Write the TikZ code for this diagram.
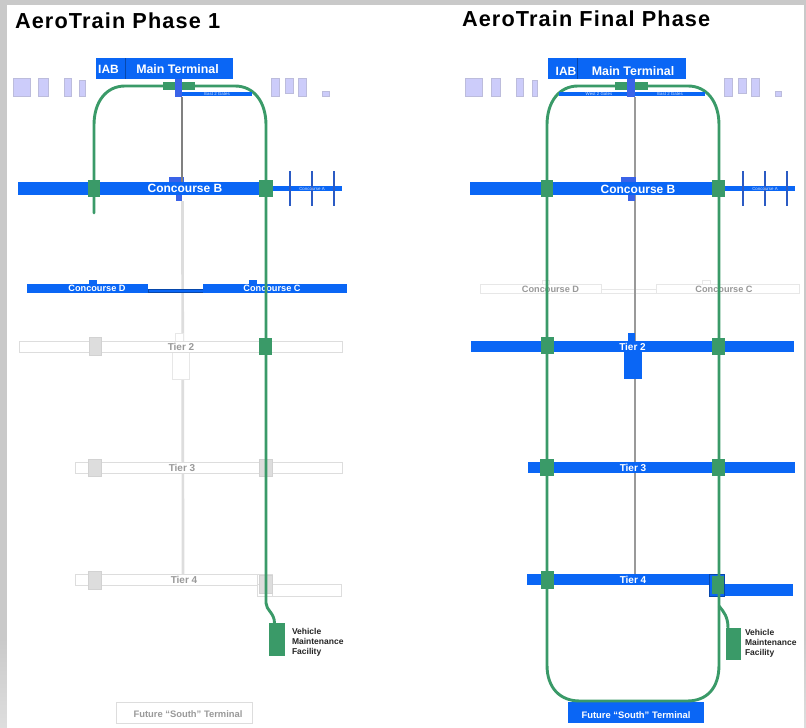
\documentclass[tikz,border=0pt]{standalone}
\usepackage{fontspec}
\setmainfont{Liberation Sans}
\newfontfamily\spaced[LetterSpace=5.2]{Liberation Sans}
\definecolor{tblue}{HTML}{0A66F5}
\definecolor{tgreen}{HTML}{3A9A68}
\definecolor{tpurple}{HTML}{CCCCFA}
\definecolor{tedge}{HTML}{BCBCDC}
\definecolor{tpale}{HTML}{DDDDDD}
\definecolor{tdeep}{HTML}{2B5BC4}
\definecolor{tcore}{HTML}{3A63E8}
\definecolor{ttext}{HTML}{999999}
\tikzset{
  x=1pt,y=-1pt,
  bx/.style={rectangle,inner sep=0pt,outer sep=0pt,align=center},
  bluebox/.style={bx,fill=tblue,text=white,font=\bfseries},
  ghost/.style={bx,fill=white,draw=tpale,line width=0.9pt,text=ttext,font=\bfseries},
  faint/.style={bx,fill=white,draw=tpale!70,line width=0.7pt,text=ttext,font=\bfseries},
  greenst/.style={bx,fill=tgreen},
  greyst/.style={bx,fill=tpale,draw=tpale!95!black,line width=0.4pt},
  corebox/.style={bx,fill=tcore},
  pier/.style={bx,fill=tpurple,draw=tedge,line width=0.6pt},
  track/.style={draw=tgreen,line width=2.9pt,line cap=round},
  spine/.style={draw=gray,line width=2.7pt},
  pale/.style={draw=tpale,line width=2.7pt},
  rib/.style={draw=tdeep,line width=1.7pt},
  heading/.style={inner sep=0pt,outer sep=0pt,anchor=base west,font=\spaced\bfseries\fontsize{21.7}{24}\selectfont},
  lbl/.style={inner sep=0pt,outer sep=0pt,anchor=center},
  vmf/.style={inner sep=0pt,outer sep=0pt,anchor=north west,align=left,font=\bfseries\fontsize{8.5}{10}\selectfont,text=black!85},
}
% name, style, x1,y1,x2,y2, text
\newcommand{\bx}[7]{%
  \pgfmathsetmacro{\bw}{#5-#3}\pgfmathsetmacro{\bh}{#6-#4}%
  \pgfmathsetmacro{\bcx}{(#3+#5)/2}\pgfmathsetmacro{\bcy}{(#4+#6)/2}%
  \node[#2,minimum width=\bw pt,minimum height=\bh pt] (#1) at (\bcx,\bcy) {#7};}
\newcommand{\fs}[1]{\fontsize{#1}{#1}\selectfont}
\begin{document}
\begin{tikzpicture}
\useasboundingbox (0,0) rectangle (806,728);
% page frame
\fill[gray!42] (0,0) rectangle (806,728);
\shade[top color=gray!42,bottom color=gray!26] (0,640) rectangle (7,728);
\shade[top color=gray!42,bottom color=gray!26] (804,640) rectangle (806,728);
\fill[white] (7,5) rectangle (804,728);

% ===== Phase 1 =====
\node[heading] (t1) at (15,28) {AeroTrain Phase 1};
\bx{a1}{pier}{13}{78}{30}{96}{}
\bx{a2}{pier}{38}{78}{48}{96}{}
\bx{a3}{pier}{64}{78}{71}{96}{}
\bx{a4}{pier}{79}{80}{85}{96}{}
\bx{a5}{pier}{271}{78}{279}{96}{}
\bx{a6}{pier}{285}{78}{293}{93}{}
\bx{a7}{pier}{298}{78}{306}{96}{}
\bx{a8}{pier}{322}{91}{329}{96}{}
% concourse A
\bx{aCA}{bluebox}{272}{186}{342}{191}{}
\bx{aR1}{bx}{289.5}{171}{290.5}{206}{}
\bx{aR2}{bx}{311.5}{171}{312.5}{206}{}
\bx{aR3}{bx}{333.5}{171}{334.5}{206}{}
\draw[rib] (aR1.north) -- (aR1.south);
\draw[rib] (aR2.north) -- (aR2.south);
\draw[rib] (aR3.north) -- (aR3.south);
\node[lbl,text=white!80!tblue,font=\fs{4.4}] at (312,188.5) {Concourse A};
% spine nodes
\bx{aCBt}{corebox}{169}{177}{184}{182}{}
\bx{aCBb}{corebox}{176}{195}{182}{201}{}
\bx{aCore}{corebox}{175}{79}{182}{97}{}
\coordinate (aSe) at (183,575);
\draw[spine] (182,97) -- (aCBt.south -| 182,177);
\draw[pale] (182.5,201) -- (aSe);
\bx{aT2t}{faint}{175}{333}{183}{341}{}
\bx{aT2b}{faint}{172}{352}{189}{379}{}
% concourse D and C
\bx{aDt}{bluebox}{89}{280}{97}{284}{}
\bx{aCt}{bluebox}{249}{280}{257}{284}{}
\bx{aLink}{bx,fill=tblue,draw=tblue!70!black,line width=0.6pt}{148}{289}{203}{292.5}{}
\bx{aD}{bluebox}{27}{284}{148}{293}{}
\bx{aC}{bluebox}{203}{284}{347}{293}{}
\node[lbl,text=white,font=\bfseries\fs{9.2}] at (97,288.5) {Concourse D};
\node[lbl,text=white,font=\bfseries\fs{9.2}] at (272,288.5) {Concourse C};
% Concourse B
\bx{aB}{bluebox}{18}{182}{272}{195}{}
\node[lbl,text=white,font=\bfseries\fs{12}] at (185,188.5) {Concourse B};
% tiers
\bx{aT2}{ghost}{19}{341}{342}{352}{}
\bx{aT3}{ghost}{75}{462}{342}{473}{}
\bx{aT4x}{ghost}{257}{584}{341}{596}{}
\bx{aT4}{ghost}{75}{574}{257}{585}{}
\bx{aT4y}{bx,draw=tpale,line width=0.9pt}{257}{574}{272}{596}{}
\node[lbl,text=ttext,font=\bfseries\fs{10}] at (181,346.5) {Tier 2};
\node[lbl,text=ttext,font=\bfseries\fs{10}] at (182,468) {Tier 3};
\node[lbl,text=ttext,font=\bfseries\fs{10}] at (184,580) {Tier 4};
\bx{aS2w}{greyst}{89}{337}{101}{355}{}
\bx{aS3w}{greyst}{88}{459}{101}{476}{}
\bx{aS4w}{greyst}{88}{571}{101}{589}{}
\bx{aS3e}{greyst}{259}{459}{272}{476}{}
\bx{aS4e}{greyst}{259}{575}{272}{593}{}
% terminal and gates
\bx{aIAB}{bluebox}{96}{58}{125}{79}{}
\bx{aMain}{bluebox}{125}{58}{233}{79}{}
\draw[tblue!70!black,line width=0.4pt] (aIAB.north east) -- (aIAB.south east);
\node[lbl,text=white,font=\bfseries\fs{12}] at (108.5,69.5) {IAB};
\node[lbl,text=white,font=\bfseries\fs{12.4}] at (177.5,69.5) {Main Terminal};
% track
\bx{aTop}{greenst}{163}{82}{195}{90}{}
\bx{aBw}{greenst}{88}{180}{100}{197}{}
\bx{aBe}{greenst}{259}{180}{273}{197}{}
\bx{aS2e}{greenst}{259}{338}{272}{355}{}
\bx{aVMF}{greenst}{269}{623}{285}{656}{}
\coordinate (aStub) at (94,213);
\draw[track] (aStub) -- (94,125) .. controls (94,102) and (106,86) .. (125,86) -- (aTop.west);
\draw[track] (aTop.east) -- (235,86) .. controls (254,86) and (266,102) .. (266,125) -- (266,603) .. controls (266,610) and (274.5,613) .. (274.5,623);
\bx{aCore2}{corebox}{175}{79}{182}{97}{}
\bx{aGate}{bluebox}{182}{91.5}{252}{96}{}
\node[lbl,text=white!80!tblue,font=\fs{4.4}] at (217,93.8) {East 2 Gates};
\node[vmf] at (292,628.3) {Vehicle\\Maintenance\\Facility};
\bx{aSouth}{ghost}{116}{702}{252}{723}{}
\node[lbl,text=ttext,font=\bfseries\fs{9.4}] at (188,714) {Future “South” Terminal};

% ===== Final phase =====
\node[heading] (t2) at (462,27) {AeroTrain Final Phase};
\bx{b1}{pier}{465}{78}{482}{96}{}
\bx{b2}{pier}{491}{78}{500}{96}{}
\bx{b3}{pier}{516}{78}{523}{96}{}
\bx{b4}{pier}{532}{80}{537}{96}{}
\bx{b5}{pier}{724}{78}{732}{96}{}
\bx{b6}{pier}{738}{78}{746}{93}{}
\bx{b7}{pier}{751}{78}{759}{96}{}
\bx{b8}{pier}{775}{91}{781}{96}{}
\bx{bCA}{bluebox}{725}{186}{795}{191}{}
\bx{bR1}{bx}{742.5}{171}{743.5}{206}{}
\bx{bR2}{bx}{764.5}{171}{765.5}{206}{}
\bx{bR3}{bx}{786.5}{171}{787.5}{206}{}
\draw[rib] (bR1.north) -- (bR1.south);
\draw[rib] (bR2.north) -- (bR2.south);
\draw[rib] (bR3.north) -- (bR3.south);
\node[lbl,text=white!80!tblue,font=\fs{4.4}] at (765,188.5) {Concourse A};
% faint concourses
\bx{bDt}{faint}{542}{280}{549}{284}{}
\bx{bCt}{faint}{702}{280}{710}{284}{}
\bx{bLink}{faint}{601}{289}{656}{293}{}
\bx{bD}{faint}{480}{284}{601}{293}{}
\bx{bC}{faint}{656}{284}{799}{293}{}
\node[lbl,text=ttext,font=\bfseries\fs{9.2}] at (550.5,289) {Concourse D};
\node[lbl,text=ttext,font=\bfseries\fs{9.2}] at (724,289) {Concourse C};
% spine
\coordinate (bSt) at (635,97);
\coordinate (bSe) at (635,575);
\draw[spine,draw=gray!80] (bSt) -- (bSe);
\bx{bCBt}{corebox}{621}{177}{636}{182}{}
\bx{bCBb}{corebox}{628}{195}{635}{201}{}
\bx{bB}{bluebox}{470}{182}{725}{195}{}
\node[lbl,text=white,font=\bfseries\fs{12}] at (638,189.5) {Concourse B};
% tiers
\bx{bT2t}{bluebox}{628}{333}{635}{341}{}
\bx{bT2b}{bluebox}{624}{352}{642}{379}{}
\bx{bT2}{bluebox}{471}{341}{794}{352}{}
\bx{bT3}{bluebox}{528}{462}{795}{473}{}
\bx{bT4x}{bluebox}{709}{584}{793}{596}{}
\bx{bT4y}{bx,fill=tblue,draw=tblue!70!black,line width=0.4pt}{709}{574}{724}{596}{}
\bx{bT4}{bluebox}{527}{574}{709}{585}{}
\node[lbl,text=white,font=\bfseries\fs{10}] at (632.5,347) {Tier 2};
\node[lbl,text=white,font=\bfseries\fs{10}] at (633,468) {Tier 3};
\node[lbl,text=white,font=\bfseries\fs{10}] at (633,580) {Tier 4};
% terminal
\bx{bIAB}{bluebox}{548}{58}{577}{79}{}
\bx{bMain}{bluebox}{577}{58}{686}{79}{}
\draw[tblue!70!black,line width=0.4pt] (bIAB.north east) -- (bIAB.south east);
\node[lbl,text=white,font=\bfseries\fs{12}] at (566,71.5) {IAB};
\node[lbl,text=white,font=\bfseries\fs{12.4}] at (633,71.5) {Main Terminal};
% track
\bx{bTop}{greenst}{615}{82}{648}{90}{}
\bx{bVMF}{greenst}{726}{628}{741}{660}{}
\bx{bSouth}{bluebox}{568}{702}{704}{723}{}
\node[lbl,text=white,font=\bfseries\fs{9.4}] at (636,715) {Future “South” Terminal};
\draw[track] (bTop.west) -- (578,86) .. controls (559,86) and (547,102) .. (547,125) -- (547,665)
   .. controls (547,688) and (560,701) .. (580,701) -- (687,701)
   .. controls (707,701) and (719,688) .. (719,665) -- (719,125)
   .. controls (719,102) and (707,86) .. (688,86) -- (bTop.east);
\draw[track,line cap=butt] (719,606) .. controls (724,612) and (728,617) .. (728,628);
\bx{bS1}{greenst}{541}{180}{553}{197}{}
\bx{bS2}{greenst}{712}{180}{725}{197}{}
\bx{bS3}{greenst}{541}{337}{554}{354}{}
\bx{bS4}{greenst}{712}{338}{725}{355}{}
\bx{bS5}{greenst}{540}{459}{554}{476}{}
\bx{bS6}{greenst}{712}{459}{725}{476}{}
\bx{bS7}{greenst}{541}{571}{554}{589}{}
\bx{bS8}{greenst}{712}{576}{724}{594}{}
\bx{bCore}{corebox}{627}{79}{635}{97}{}
\bx{bGate}{bluebox}{559}{91.5}{627}{96}{}
\bx{bGate2}{bluebox}{635}{91.5}{705}{96}{}
\node[lbl,text=white!80!tblue,font=\fs{4.4}] at (599,93.8) {West 2 Gates};
\node[lbl,text=white!80!tblue,font=\fs{4.4}] at (670,93.8) {East 2 Gates};
\node[vmf] at (745,629.5) {Vehicle\\Maintenance\\Facility};
\end{tikzpicture}
\end{document}
